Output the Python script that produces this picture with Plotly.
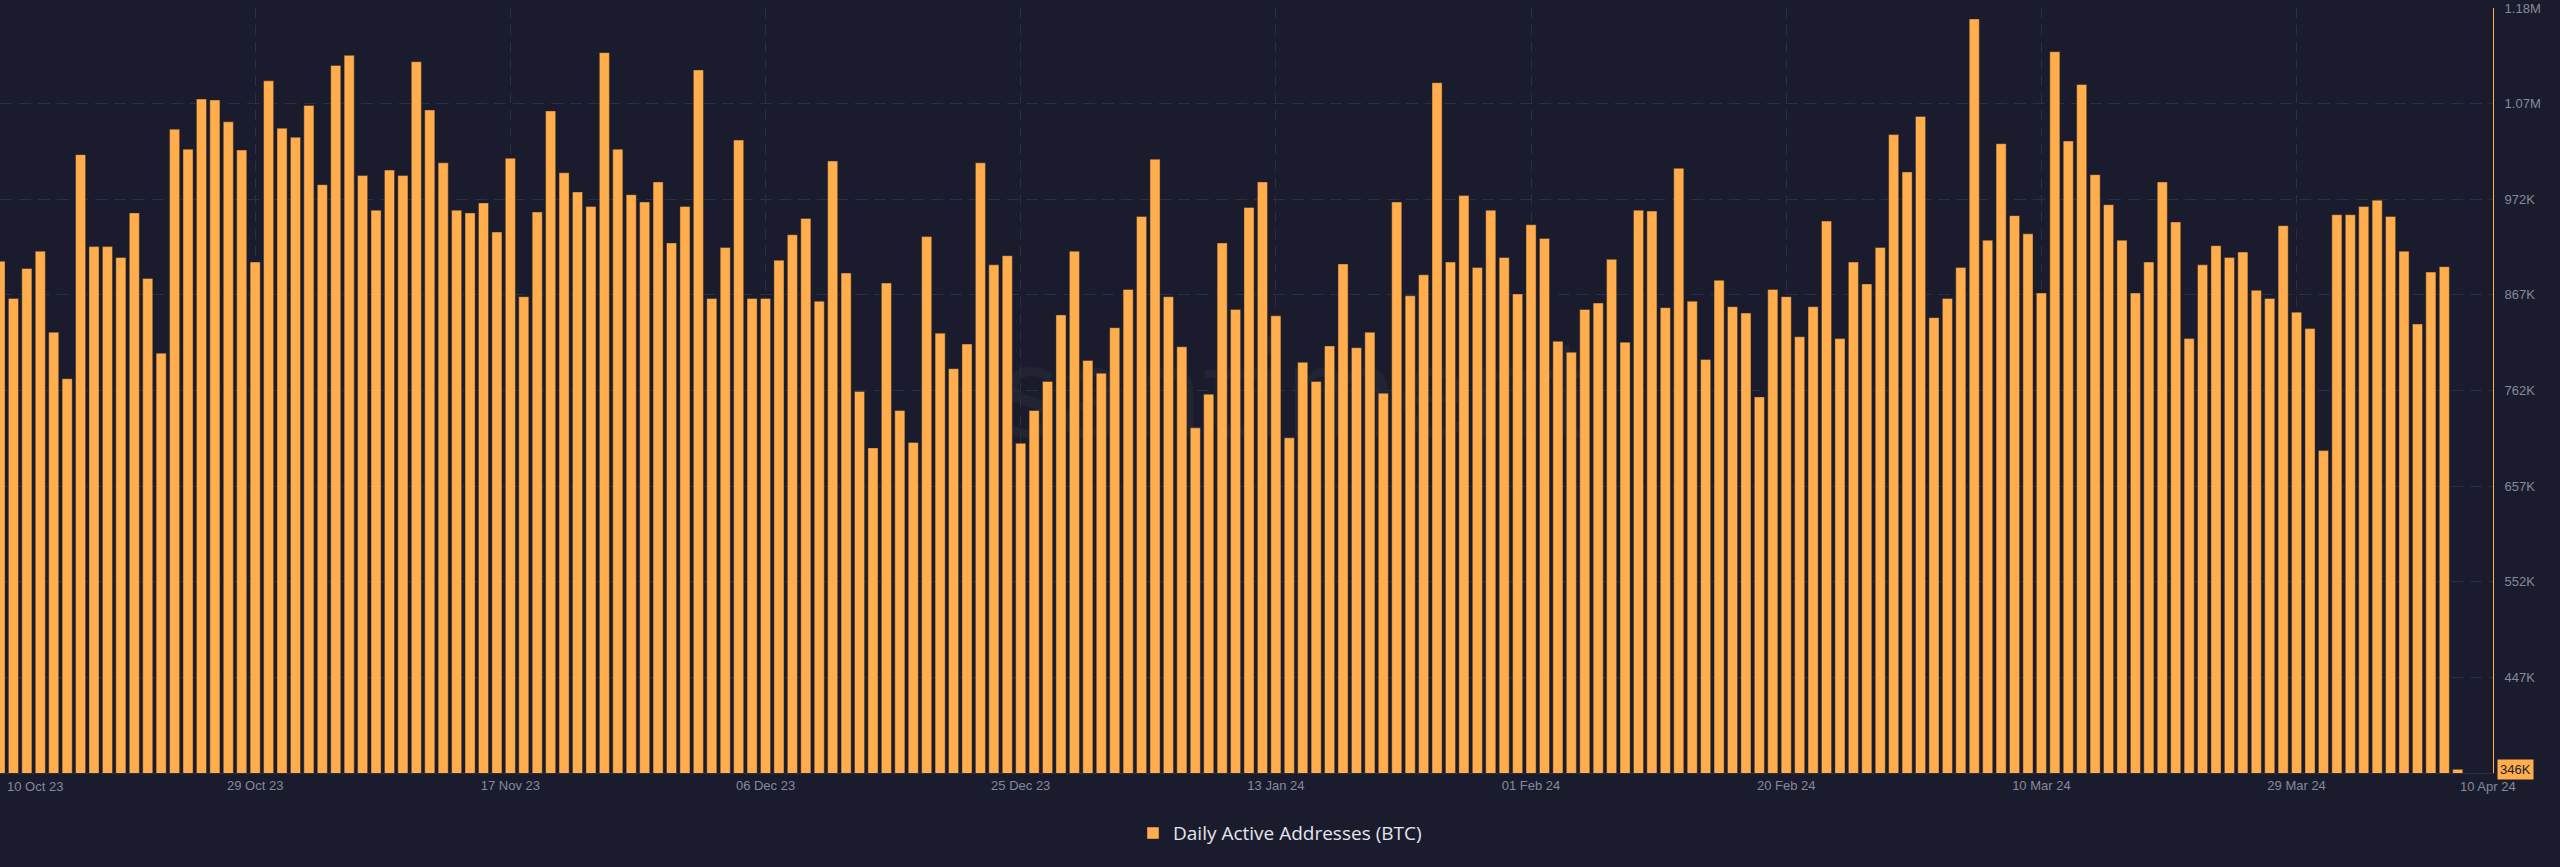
import plotly.graph_objects as go
import pandas as pd

# ---------------- data ----------------
start_date = "2023-10-10"
daily_active_addresses = [
    904000, 863000, 896000, 915000, 826000, 775000, 1021000, 920000, 920000, 908000,
    957000, 885000, 803000, 1049000, 1027000, 1082000, 1081000, 1057000, 1026000, 903000,
    1102000, 1050000, 1040000, 1075000, 988000, 1119000, 1130000, 998000, 960000, 1004000,
    998000, 1123000, 1070000, 1012000, 960000, 957000, 968000, 936000, 1017000, 865000,
    958000, 1069000, 1001000, 980000, 964000, 1133000, 1027000, 977000, 969000, 991000,
    924000, 964000, 1114000, 863000, 919000, 1037000, 863000, 863000, 905000, 933000,
    951000, 860000, 1014000, 891000, 761000, 699000, 880000, 740000, 705000, 931000,
    825000, 786000, 813000, 1012000, 900000, 910000, 704000, 740000, 772000, 845000,
    915000, 795000, 781000, 831000, 873000, 953000, 1016000, 865000, 810000, 721000,
    758000, 924000, 851000, 963000, 991000, 844000, 710000, 793000, 772000, 811000,
    901000, 809000, 826000, 759000, 969000, 866000, 889000, 1100000, 903000, 976000,
    897000, 960000, 908000, 868000, 944000, 929000, 816000, 804000, 851000, 858000,
    906000, 815000, 960000, 959000, 853000, 1006000, 860000, 796000, 883000, 854000,
    847000, 755000, 873000, 865000, 821000, 854000, 948000, 819000, 903000, 879000,
    919000, 1043000, 1002000, 1063000, 842000, 863000, 897000, 1170000, 927000, 1033000,
    954000, 934000, 869000, 1134000, 1036000, 1098000, 999000, 966000, 927000, 869000,
    903000, 991000, 947000, 819000, 900000, 921000, 908000, 914000, 872000, 863000,
    943000, 848000, 830000, 696000, 955000, 955000, 964000, 971000, 953000, 915000,
    835000, 892000, 898000, 346000,
]
dates = pd.date_range(start_date, periods=len(daily_active_addresses), freq="D")

x_tick_dates = ["2023-10-29", "2023-11-17", "2023-12-06", "2023-12-25", "2024-01-13",
                "2024-02-01", "2024-02-20", "2024-03-10", "2024-03-29"]
x_tick_labels = ["29 Oct 23", "17 Nov 23", "06 Dec 23", "25 Dec 23", "13 Jan 24",
                 "01 Feb 24", "20 Feb 24", "10 Mar 24", "29 Mar 24"]
first_date_label = ("2023-10-10", "10 Oct 23")
last_date_label = ("2024-04-10", "10 Apr 24")

y_tick_values = [447000, 552000, 657000, 762000, 867000, 972000, 1077000, 1182000]
y_tick_labels = ["447K", "552K", "657K", "762K", "867K", "972K", "1.07M", "1.18M"]
y_range = [342000, 1182000]
x_range = ["2023-10-10 00:00", "2024-04-12 15:00"]
series_name = "Daily Active Addresses (BTC)"
last_value_label = "346K"

# ---------------- style ----------------
BG = "#1a1c2d"
ORANGE = "#ffad4d"
GRID = "#2b2f43"
TICK = "#858a9e"
FONT = "Liberation Sans, Arial, sans-serif"

fig = go.Figure()
fig.add_trace(go.Bar(
    x=dates, y=daily_active_addresses, name=series_name,
    marker=dict(color=ORANGE, line=dict(color="rgba(45,35,30,0.45)", width=1)),
    showlegend=True,
))

fig.update_layout(
    width=2560, height=867,
    paper_bgcolor=BG, plot_bgcolor=BG,
    margin=dict(l=0, r=67, t=8, b=94),
    bargap=0.25,
    font=dict(family=FONT, size=13, color=TICK),
    showlegend=True,
    legend=dict(
        orientation="h", xref="container", yref="container",
        x=0.5, xanchor="center", y=0.039, yanchor="middle",
        font=dict(family="Open Sans, Lato, sans-serif", size=19, color="#e4e5ea"),
        bgcolor="rgba(0,0,0,0)",
    ),
)

fig.update_xaxes(
    type="date", range=x_range,
    tickmode="array", tickvals=x_tick_dates, ticktext=x_tick_labels,
    showgrid=True, gridcolor=GRID, griddash="10px,7px", gridwidth=1,
    showline=True, linecolor=GRID, linewidth=1,
    ticks="", tickfont=dict(size=13, color=TICK, family=FONT),
    zeroline=False,
)
fig.update_yaxes(
    side="right", range=y_range,
    tickmode="array", tickvals=y_tick_values, ticktext=y_tick_labels,
    showgrid=True, gridcolor=GRID, griddash="12px,7px", gridwidth=1,
    showline=True, linecolor=ORANGE, linewidth=1,
    ticks="", ticklabelstandoff=8,
    tickfont=dict(size=13, color=TICK, family=FONT),
    zeroline=False,
)

# faint watermark behind the bars
fig.add_shape(
    type="rect", xref="paper", yref="paper", x0=0.3, x1=0.74, y0=0.38, y1=0.64,
    line=dict(width=0), fillcolor="rgba(0,0,0,0)", layer="below",
    label=dict(text="santiment", textposition="middle center",
               font=dict(size=136, color="rgba(255,255,255,0.035)", family="Lato, sans-serif")),
)

# first / last date labels (left aligned at their date)
for (d, txt), shift in ((first_date_label, 5), (last_date_label, 0)):
    fig.add_annotation(
        x=d, xref="x", y=0, yref="paper", yanchor="top", xanchor="left",
        text=txt, showarrow=False, xshift=shift, yshift=-4,
        font=dict(size=13, color=TICK, family=FONT),
    )

# current value tag on the y axis
fig.add_annotation(
    x=1, xref="paper", y=daily_active_addresses[-1], yref="y",
    xanchor="left", yanchor="middle", xshift=4,
    text=last_value_label, showarrow=False,
    bgcolor=ORANGE, borderpad=2,
    font=dict(size=13, color="#1a1c2d", family=FONT),
)

fig.write_html(
    "out.html",
    config={"displayModeBar": False},
    post_script="document.body.style.margin='0';document.body.style.background='%s';" % BG,
)
